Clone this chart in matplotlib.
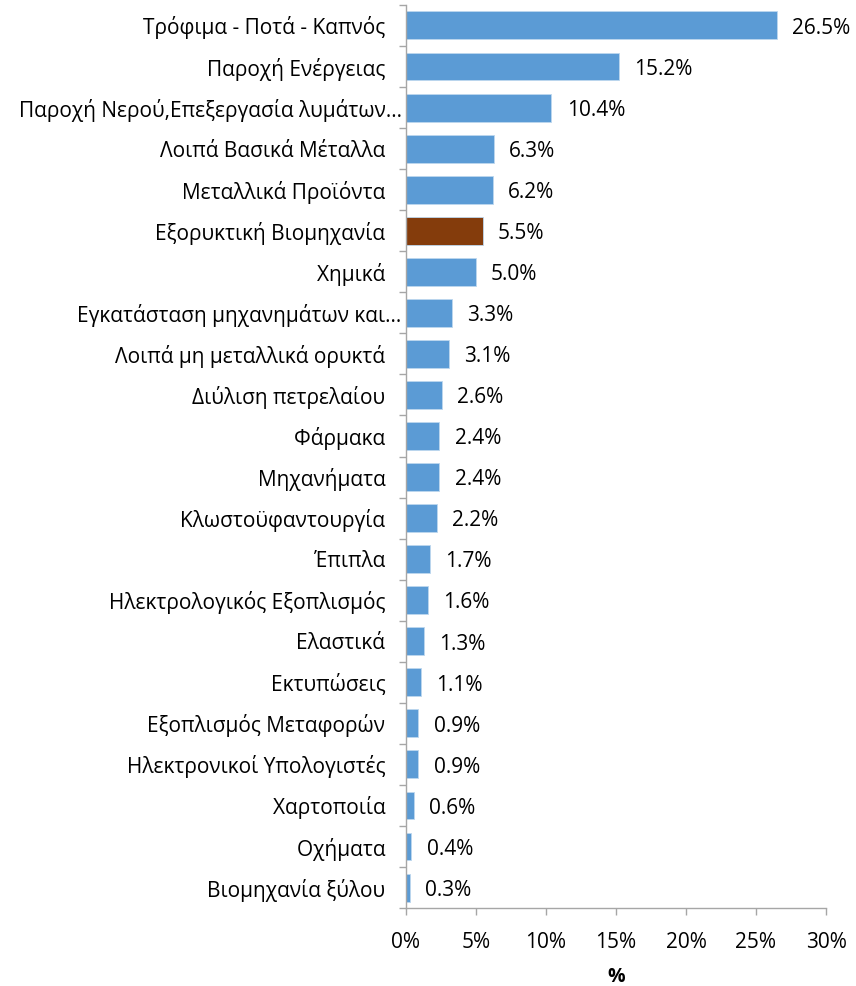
import numpy as np
import matplotlib.pyplot as plt
from matplotlib.ticker import FuncFormatter

plt.rcParams['font.family'] = ['Open Sans', 'DejaVu Sans']

categories = [
    'Τρόφιμα - Ποτά - Καπνός',
    'Παροχή Ενέργειας',
    'Παροχή Νερού,Επεξεργασία λυμάτων…',
    'Λοιπά Βασικά Μέταλλα',
    'Μεταλλικά Προϊόντα',
    'Εξορυκτική Βιομηχανία',
    'Χημικά',
    'Εγκατάσταση μηχανημάτων και…',
    'Λοιπά μη μεταλλικά ορυκτά',
    'Διύλιση πετρελαίου',
    'Φάρμακα',
    'Μηχανήματα',
    'Κλωστοϋφαντουργία',
    'Έπιπλα',
    'Ηλεκτρολογικός Εξοπλισμός',
    'Ελαστικά',
    'Εκτυπώσεις',
    'Εξοπλισμός Μεταφορών',
    'Ηλεκτρονικοί Υπολογιστές',
    'Χαρτοποιία',
    'Οχήματα',
    'Βιομηχανία ξύλου',
]
values = [26.5, 15.2, 10.4, 6.3, 6.2, 5.5, 5.0, 3.3, 3.1, 2.6, 2.4, 2.4,
          2.2, 1.7, 1.6, 1.3, 1.1, 0.9, 0.9, 0.6, 0.4, 0.3]
highlight = 'Εξορυκτική Βιομηχανία'
truncated = ['Παροχή Νερού,Επεξεργασία λυμάτων…', 'Εγκατάσταση μηχανημάτων και…']

blue = '#5B9BD5'
brown = '#843C0C'
axis_gray = '#A6A6A6'

fig = plt.figure(figsize=(8.56, 9.86), dpi=100)
ax = fig.add_axes([0.474, 0.079, 0.491, 0.916])

y = np.arange(len(categories))
colors = [brown if c == highlight else blue for c in categories]
ax.barh(y, values, height=0.68, color=colors, edgecolor='#BDD7EE', linewidth=0.6)

for yi, v in zip(y, values):
    ax.annotate('{:.1f}%'.format(v), (v, yi), xytext=(11, -2), textcoords='offset points',
                va='center', ha='left', fontsize=15, color='#000000')

ax.set_ylim(len(categories) - 0.5, -0.5)
ax.set_xlim(0, 30)
ax.set_xticks(np.arange(0, 31, 5))
ax.xaxis.set_major_formatter(FuncFormatter(lambda x, p: '{:d}%'.format(int(round(x)))))

# category labels between boundary ticks (Excel style)
ax.set_yticks(y)
ax.set_yticklabels([c if c in truncated else c + '   ' for c in categories], fontsize=15)
ax.tick_params(axis='y', which='major', length=0, pad=3)
ax.set_yticks(np.arange(-0.5, len(categories), 1), minor=True)
ax.tick_params(axis='y', which='minor', length=5, color=axis_gray, width=1)
ax.tick_params(axis='x', length=5, color=axis_gray, width=1, labelsize=15, pad=12)

for side in ['top', 'right']:
    ax.spines[side].set_visible(False)
for side in ['left', 'bottom']:
    ax.spines[side].set_color(axis_gray)
    ax.spines[side].set_linewidth(1)

ax.set_xlabel('%', fontsize=14, fontweight='bold', labelpad=10)

fig.savefig('out.png', dpi=100)
